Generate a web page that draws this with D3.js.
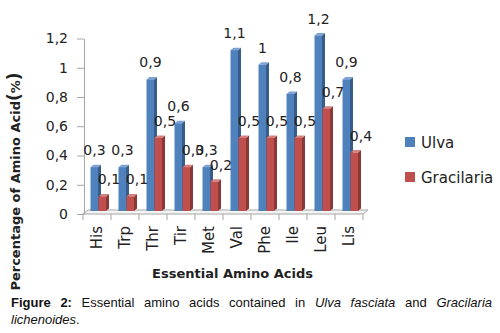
<!DOCTYPE html>
<html>
<head>
<meta charset="utf-8">
<script src="https://cdn.jsdelivr.net/npm/d3@7"></script>
<style>
  html, body { margin: 0; padding: 0; background: #fff; }
  #wrap { position: relative; width: 500px; height: 333px; overflow: hidden; }
  svg { position: absolute; left: 0; top: 0; }
  #caption {
    position: absolute; left: 11px; top: 294px; width: 481px;
    font-family: "Liberation Sans", Arial, sans-serif; font-size: 13px; line-height: 17px; color: #111;
  }
  #caption .l1 { text-align: justify; text-align-last: justify; white-space: nowrap; }
</style>
</head>
<body>
<div id="wrap">
  <svg id="chart" width="500" height="333"></svg>
  <div id="caption">
    <div class="l1"><b>Figure 2:</b> Essential amino acids contained in <i>Ulva fasciata</i> and <i>Gracilaria</i></div>
    <div><i>lichenoides</i>.</div>
  </div>
</div>
<script>
const categories = ["His", "Trp", "Thr", "Tir", "Met", "Val", "Phe", "Ile", "Leu", "Lis"];
const ulva = [0.3, 0.3, 0.9, 0.6, 0.3, 1.1, 1.0, 0.8, 1.2, 0.9];
const gracilaria = [0.1, 0.1, 0.5, 0.3, 0.2, 0.5, 0.5, 0.5, 0.7, 0.4];
const seriesNames = ["Ulva", "Gracilaria"];
const yTicks = [0, 0.2, 0.4, 0.6, 0.8, 1, 1.2];
const yTitle = "Percentage of Amino Acid";
const xTitle = "Essential Amino Acids";

const fmt = v => String(+v.toFixed(2)).replace(".", ",");
const svg = d3.select("#chart");
const FONT = "DejaVu Sans, sans-serif";

const x = d3.scaleBand().domain(categories).range([83, 363]).padding(0);
const y = d3.scaleLinear().domain([0, 1.2]).range([214, 38.5]);

const depthX = 5, depthY = 4;     // floor depth
const bdx = 3, bdy = 2.5;          // bar side depth
const back = 3;                    // bars sit slightly behind front plane

// floor
const fx0 = x.range()[0], fx1 = x.range()[1], fy = y(0);
svg.append("polygon")
  .attr("points", [[fx0, fy], [fx1, fy], [fx1 + depthX, fy - depthY], [fx0 + depthX, fy - depthY]].map(p => p.join(",")).join(" "))
  .attr("fill", "#f4f4f4").attr("stroke", "#a6a6a6").attr("stroke-width", 1);

// y axis
const yAxis = svg.append("g").attr("transform", "translate(84,0)")
  .call(d3.axisLeft(y).tickValues(yTicks).tickFormat(fmt).tickSize(7).tickSizeOuter(0).tickPadding(9));
yAxis.select(".domain").attr("stroke", "#a6a6a6");
yAxis.selectAll(".tick line").attr("stroke", "#a6a6a6");
yAxis.selectAll(".tick text").attr("font-family", FONT).attr("font-size", 14).attr("fill", "#222");

// x axis ticks at band boundaries
const bounds = categories.map(c => x(c)).concat([x(categories[categories.length - 1]) + x.bandwidth()]);
svg.append("g").selectAll("line").data(bounds).join("line")
  .attr("x1", d => d).attr("x2", d => d).attr("y1", fy).attr("y2", fy + 6)
  .attr("stroke", "#a6a6a6");

// x axis labels
const xAxis = svg.append("g").attr("transform", `translate(0,${fy})`)
  .call(d3.axisBottom(x).tickSize(0));
xAxis.select(".domain").remove();
xAxis.selectAll(".tick text")
  .attr("transform", "rotate(-90)")
  .attr("x", -12).attr("y", 0).attr("dy", "0.35em")
  .attr("text-anchor", "end")
  .attr("font-family", FONT).attr("font-size", 15).attr("fill", "#222");

// bars
const series = [
  { name: seriesNames[0], values: ulva, off0: -6.5, off1: 1, front: "#4f81bd", side: "#385d8a", top: "#7ea2d2" },
  { name: seriesNames[1], values: gracilaria, off0: 1.5, off1: 9, front: "#c0504d", side: "#8c3836", top: "#d6817e" }
];

series.forEach(s => {
  const g = svg.append("g");
  categories.forEach((c, i) => {
    const cx = x(c) + x.bandwidth() / 2;
    const x0 = cx + s.off0, x1 = cx + s.off1;
    const top = y(s.values[i]) - back, bot = y(0) - back;
    g.append("polygon")
      .attr("points", [[x1, top], [x1 + bdx, top - bdy], [x1 + bdx, bot - bdy], [x1, bot]].map(p => p.join(",")).join(" "))
      .attr("fill", s.side);
    g.append("polygon")
      .attr("points", [[x0, top], [x0 + bdx, top - bdy], [x1 + bdx, top - bdy], [x1, top]].map(p => p.join(",")).join(" "))
      .attr("fill", s.top);
    g.append("rect").attr("x", x0).attr("y", top).attr("width", x1 - x0).attr("height", bot - top)
      .attr("fill", s.front);
  });
});

// data labels
svg.append("g").selectAll("text").data(categories.map((c, i) => ({ c, v: ulva[i] }))).join("text")
  .attr("x", d => x(d.c) + x.bandwidth() / 2 - 2.5)
  .attr("y", d => y(d.v) - 15)
  .attr("text-anchor", "middle").attr("font-family", FONT).attr("font-size", 14).attr("fill", "#222")
  .text(d => fmt(d.v));
svg.append("g").selectAll("text").data(categories.map((c, i) => ({ c, v: gracilaria[i] }))).join("text")
  .attr("x", d => x(d.c) + x.bandwidth() / 2 + 12)
  .attr("y", d => y(d.v) - 15)
  .attr("text-anchor", "middle").attr("font-family", FONT).attr("font-size", 14).attr("fill", "#222")
  .text(d => fmt(d.v));

// legend
const legend = svg.append("g");
series.forEach((s, i) => {
  const ly = 137 + i * 35;
  legend.append("rect").attr("x", 405).attr("y", ly).attr("width", 10).attr("height", 10).attr("fill", s.front);
  legend.append("text").attr("x", 421).attr("y", ly + 11)
    .attr("font-family", FONT).attr("font-size", 15).attr("fill", "#222").text(s.name);
});

// axis titles
const yt = svg.append("text")
  .attr("transform", "translate(15,181.5) rotate(-90)")
  .attr("text-anchor", "middle").attr("dy", "0.35em")
  .attr("font-family", FONT).attr("font-size", 13).attr("font-weight", "bold").attr("fill", "#222");
yt.append("tspan").text(yTitle);
yt.append("tspan").attr("font-size", 17).text("(");
yt.append("tspan").text("%");
yt.append("tspan").attr("font-size", 17).text(")");

svg.append("text").attr("x", 232.5).attr("y", 278).attr("text-anchor", "middle")
  .attr("font-family", FONT).attr("font-size", 13).attr("font-weight", "bold").attr("fill", "#222")
  .text(xTitle);
</script>
</body>
</html>
